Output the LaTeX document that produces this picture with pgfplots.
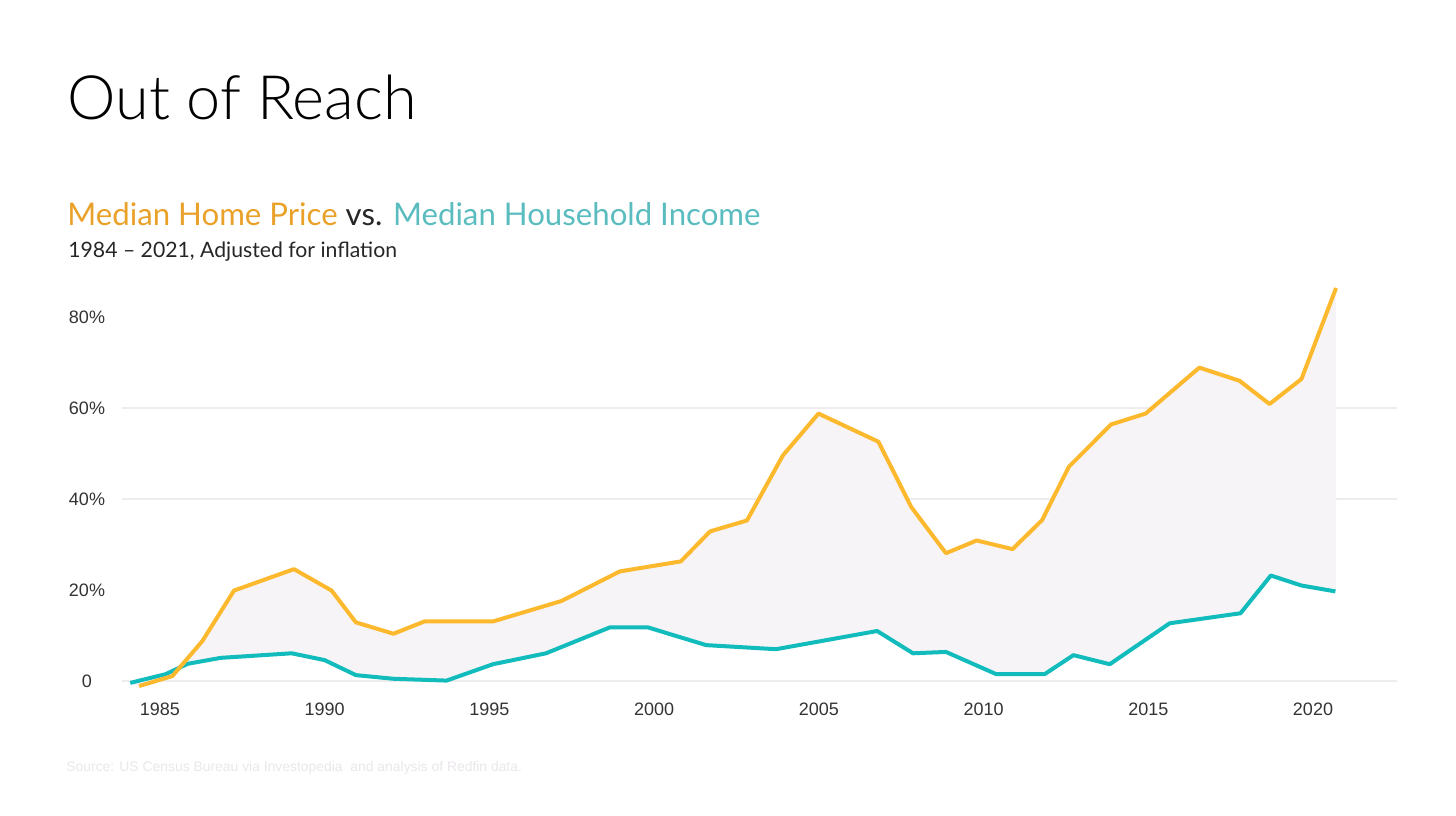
\documentclass[border=0pt]{standalone}
\usepackage{pgfplots}
\pgfplotsset{compat=1.18}
\usepackage{pgfplotstable}
\usepackage{fontspec}
\setmainfont{Liberation Sans}
\newfontfamily\titlefont{Lato Light}
\newfontfamily\subfont{Lato}
\definecolor{homeline}{RGB}{253,185,46}
\definecolor{incline}{RGB}{18,188,188}
\definecolor{hometitle}{RGB}{233,161,42}
\definecolor{inctitle}{RGB}{90,188,191}
\definecolor{fillgray}{RGB}{246,244,246}
\definecolor{gridgray}{RGB}{238,236,238}
\definecolor{srcgray}{RGB}{234,230,234}

\pgfplotstableread{
x y
1984.37 -1.1
1985.38 1.1
1986.29 8.8
1987.25 19.9
1989.07 24.6
1990.21 19.9
1990.95 12.9
1992.09 10.4
1993.03 13.1
1995.11 13.1
1997.19 17.6
1998.96 24.1
2000.81 26.3
2001.70 32.9
2002.82 35.3
2003.91 49.6
2004.99 58.8
2006.81 52.6
2007.81 38.2
2008.86 28.1
2009.79 30.9
2010.88 29.0
2011.78 35.4
2012.59 47.1
2013.87 56.4
2014.92 58.8
2016.55 68.9
2017.77 66.0
2018.68 60.9
2019.65 66.4
2020.70 86.4
}\hometable

\pgfplotstableread{
x y
1984.10 -0.4
1985.17 1.5
1985.85 3.8
1986.85 5.1
1989.00 6.1
1990.00 4.6
1990.95 1.3
1992.09 0.5
1993.70 0.1
1995.11 3.7
1996.72 6.1
1998.66 11.8
1999.81 11.8
2001.58 7.9
2003.70 7.0
2006.77 11.0
2007.86 6.1
2008.86 6.4
2010.39 1.5
2011.85 1.5
2012.73 5.7
2013.83 3.7
2015.65 12.7
2017.80 14.9
2018.72 23.2
2019.65 21.0
2020.68 19.7
}\inctable

% shaded band: home price forward, then household income backward
\pgfplotstableread{
x y
1984.37 -1.1
1985.38 1.1
1986.29 8.8
1987.25 19.9
1989.07 24.6
1990.21 19.9
1990.95 12.9
1992.09 10.4
1993.03 13.1
1995.11 13.1
1997.19 17.6
1998.96 24.1
2000.81 26.3
2001.70 32.9
2002.82 35.3
2003.91 49.6
2004.99 58.8
2006.81 52.6
2007.81 38.2
2008.86 28.1
2009.79 30.9
2010.88 29.0
2011.78 35.4
2012.59 47.1
2013.87 56.4
2014.92 58.8
2016.55 68.9
2017.77 66.0
2018.68 60.9
2019.65 66.4
2020.70 86.4
2020.70 19.7
2019.65 21.0
2018.72 23.2
2017.80 14.9
2015.65 12.7
2013.83 3.7
2012.73 5.7
2011.85 1.5
2010.39 1.5
2008.86 6.4
2007.86 6.1
2006.77 11.0
2003.70 7.0
2001.58 7.9
1999.81 11.8
1998.66 11.8
1996.72 6.1
1995.11 3.7
1993.70 0.1
1992.09 0.5
1990.95 1.3
1990.00 4.6
1989.00 6.1
1986.85 5.1
1985.85 3.8
1985.17 1.5
1984.10 -0.4
}\bandtable

\begin{document}
\begin{tikzpicture}
\path[use as bounding box] (0pt,0pt) rectangle (728pt,407.5pt);
% titles
\node[anchor=base west, inner sep=0pt, font=\titlefont\fontsize{30.6}{31}\selectfont] at (33.5pt,347.5pt) {Out of Reach};
\node[anchor=base west, inner sep=0pt, font=\subfont\fontsize{15.6}{16}\selectfont, text=black!85] at (33.5pt,294.5pt)
  {\textcolor{hometitle}{Median Home Price} vs. \textcolor{inctitle}{Median Household Income}};
\node[anchor=base west, inner sep=0pt, font=\subfont\fontsize{10.6}{11}\selectfont, text=black!85] at (34pt,278.5pt)
  {1984 – 2021, Adjusted for inflation};
\node[anchor=base west, inner sep=0pt, font=\fontsize{6.95}{7}\selectfont, text=srcgray] at (33pt,22pt)
  {Source: US Census Bureau via Investopedia\ \ and analysis of Redfin data.};

\begin{axis}[
  at={(61pt,60.15pt)}, anchor=south west,
  scale only axis,
  width=637.5pt, height=207pt,
  xmin=1983.85, xmax=2022.55,
  ymin=-3, ymax=88,
  axis line style={draw=none},
  xtick={1985,1990,1995,2000,2005,2010,2015,2020},
  ytick={0,20,40,60,80},
  yticklabels={0,20\%,40\%,60\%,80\%},
  xticklabels={1985,1990,1995,2000,2005,2010,2015,2020},
  extra y ticks={0,40,60},
  extra y tick labels={},
  extra y tick style={grid=major},
  major tick length=0pt,
  tick style={draw=none},
  grid style={gridgray, line width=0.6pt},
  ticklabel style={font=\fontsize{9}{9}\selectfont, text=black!80},
  yticklabel style={anchor=center, xshift=-17.5pt},
  xticklabel style={anchor=center, yshift=-7.2pt},
]
\addplot[fill=fillgray, draw=none] table {\bandtable} -- cycle;
\addplot[incline, line width=2pt, line join=round] table {\inctable};
\addplot[homeline, line width=2pt, line join=round] table {\hometable};
\end{axis}
\end{tikzpicture}
\end{document}
